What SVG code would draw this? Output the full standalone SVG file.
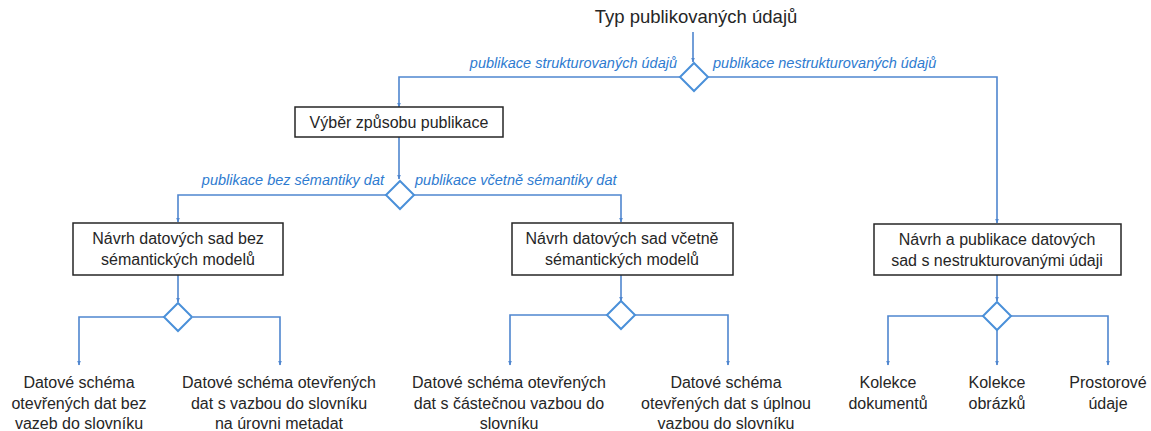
<svg xmlns="http://www.w3.org/2000/svg" width="1151" height="431" viewBox="0 0 1151 431">
  <style>
    .box { fill: #ffffff; stroke: #262626; stroke-width: 1.5; }
    .dec { fill: #ffffff; stroke: #4a90d9; stroke-width: 2; }
    .edge { fill: none; stroke: #4f86cf; stroke-width: 1.6; }
    .t { font-family: "Liberation Sans", Arial, sans-serif; font-size: 16px; fill: #262626; text-anchor: middle; }
    .title { font-size: 18.5px; }
    .lbl { font-family: "Liberation Sans", Arial, sans-serif; font-size: 14.5px; font-style: italic; fill: #2e7bd0; }
  </style>
  <defs>
    <marker id="ah" viewBox="0 0 10 10" refX="9" refY="5" markerWidth="5" markerHeight="5" orient="auto" markerUnits="userSpaceOnUse">
      <path d="M0,1 L10,5 L0,9 z" fill="#4f86cf"/>
    </marker>
  </defs>
  <rect width="1151" height="431" fill="#ffffff"/>

  <!-- connectors -->
  <g id="connectors">
    <path class="edge" d="M693,32 V62" marker-end="url(#ah)"/>
    <path class="edge" d="M680,77 H399 V107" marker-end="url(#ah)"/>
    <path class="edge" d="M708,77 H997 V223" marker-end="url(#ah)"/>
    <path class="edge" d="M399,137 V179" marker-end="url(#ah)"/>
    <path class="edge" d="M386,195 H178 V222" marker-end="url(#ah)"/>
    <path class="edge" d="M414,195 H621 V222" marker-end="url(#ah)"/>
    <path class="edge" d="M178,275 V302" marker-end="url(#ah)"/>
    <path class="edge" d="M164,317 H79 V365" marker-end="url(#ah)"/>
    <path class="edge" d="M193,317 H280 V365" marker-end="url(#ah)"/>
    <path class="edge" d="M621,275 V301" marker-end="url(#ah)"/>
    <path class="edge" d="M607,315 H510 V365" marker-end="url(#ah)"/>
    <path class="edge" d="M635,315 H728 V365" marker-end="url(#ah)"/>
    <path class="edge" d="M997,275 V301" marker-end="url(#ah)"/>
    <path class="edge" d="M983,316 H888 V365" marker-end="url(#ah)"/>
    <path class="edge" d="M997,330 V365" marker-end="url(#ah)"/>
    <path class="edge" d="M1011,316 H1108 V365" marker-end="url(#ah)"/>
    <text class="lbl" x="677" y="68" text-anchor="end">publikace strukturovaných údajů</text>
    <text class="lbl" x="713" y="68">publikace nestrukturovaných údajů</text>
    <text class="lbl" x="384" y="185" text-anchor="end">publikace bez sémantiky dat</text>
    <text class="lbl" x="415" y="185">publikace včetně sémantiky dat</text>
  </g>

  <g id="start">
    <text class="t title" x="696" y="23">Typ publikovaných údajů</text>
  </g>

  <g id="d-type"><path class="dec" d="M694,63 L708,77 L694,91 L680,77 z"/></g>

  <g id="n-vyber">
    <rect class="box" x="295" y="107" width="208" height="30"/>
    <text class="t" x="399" y="128">Výběr způsobu publikace</text>
  </g>

  <g id="d-semantika"><path class="dec" d="M400,181 L414,195 L400,209 L386,195 z"/></g>

  <g id="n-bez">
    <rect class="box" x="73" y="223" width="210" height="52"/>
    <text class="t" x="178" y="244">Návrh datových sad bez</text>
    <text class="t" x="178" y="265">sémantických modelů</text>
  </g>

  <g id="n-vcetne">
    <rect class="box" x="512" y="223" width="221" height="52"/>
    <text class="t" x="622" y="244">Návrh datových sad včetně</text>
    <text class="t" x="622" y="265">sémantických modelů</text>
  </g>

  <g id="n-nestrukt">
    <rect class="box" x="874" y="224" width="247" height="51"/>
    <text class="t" x="997" y="245">Návrh a publikace datových</text>
    <text class="t" x="997" y="266">sad s nestrukturovanými údaji</text>
  </g>

  <g id="d-bez"><path class="dec" d="M178,303 L192,317 L178,331 L164,317 z"/></g>
  <g id="d-vcetne"><path class="dec" d="M621,301 L635,315 L621,329 L607,315 z"/></g>
  <g id="d-nestrukt"><path class="dec" d="M997,302 L1011,316 L997,330 L983,316 z"/></g>

  <g id="leaf-1">
    <text class="t" x="79" y="388">Datové schéma</text>
    <text class="t" x="79" y="409">otevřených dat bez</text>
    <text class="t" x="79" y="429">vazeb do slovníku</text>
  </g>
  <g id="leaf-2">
    <text class="t" x="279" y="388">Datové schéma otevřených</text>
    <text class="t" x="279" y="409">dat s vazbou do slovníku</text>
    <text class="t" x="279" y="429">na úrovni metadat</text>
  </g>
  <g id="leaf-3">
    <text class="t" x="509" y="388">Datové schéma otevřených</text>
    <text class="t" x="509" y="409">dat s částečnou vazbou do</text>
    <text class="t" x="509" y="429">slovníku</text>
  </g>
  <g id="leaf-4">
    <text class="t" x="726" y="388">Datové schéma</text>
    <text class="t" x="726" y="409">otevřených dat s úplnou</text>
    <text class="t" x="726" y="429">vazbou do slovníku</text>
  </g>
  <g id="leaf-5">
    <text class="t" x="888" y="388">Kolekce</text>
    <text class="t" x="888" y="409">dokumentů</text>
  </g>
  <g id="leaf-6">
    <text class="t" x="997" y="388">Kolekce</text>
    <text class="t" x="997" y="409">obrázků</text>
  </g>
  <g id="leaf-7">
    <text class="t" x="1108" y="388">Prostorové</text>
    <text class="t" x="1108" y="409">údaje</text>
  </g>
</svg>
